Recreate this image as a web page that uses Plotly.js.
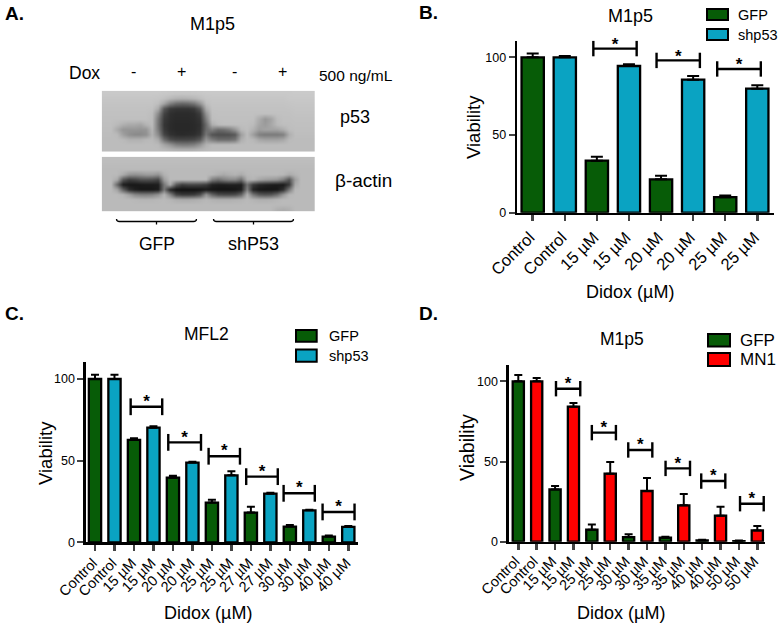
<!DOCTYPE html>
<html><head><meta charset="utf-8">
<script src="https://cdn.plot.ly/plotly-3.0.1.min.js"></script>
<style>html,body{margin:0;padding:0;background:#fff}</style>
</head><body><div id="chart" style="width:779px;height:626px"></div>
<script>
// ---------- Panel B ----------
const catsB = ["Control","Control","15 µM","15 µM","20 µM","20 µM","25 µM","25 µM"];
const gfpB = [100,33.5,21.5,10];
const gfpErrB = [2.4,2.5,2.3,1];
const shpB = [100,94.4,85.6,79.8];
const shpErrB = [0.9,1.2,2.4,2.2];
const brLeftB = [1.89,3.86,5.75];
const brRightB = [3.24,5.21,7.11];
const brYB = [105.6,98,92.5];
// ---------- Panel C ----------
const catsC = ["Control","Control","15 µM","15 µM","20 µM","20 µM","25 µM","25 µM","27 µM","27 µM","30 µM","30 µM","40 µM","40 µM"];
const gfpC = [100,62.7,39.6,24.3,18.2,9.6,3.5];
const gfpErrC = [2.6,1,1.2,1.7,3.6,1,0.6];
const shpC = [100,70.2,48.8,41,29.8,19.6,9.4];
const shpErrC = [2.6,0.8,0.6,2.5,0.6,0.4,0.6];
const brLeftC = [1.83,3.76,5.83,7.76,9.68,11.68];
const brRightC = [3.45,5.44,7.44,9.38,11.28,13.32];
const brYC = [83,61.2,52.7,40.2,30,18.6];
// ---------- Panel D ----------
const catsD = ["Control","Control","15 µM","15 µM","25 µM","25 µM","30 µM","30 µM","35 µM","35 µM","40 µM","40 µM","50 µM","50 µM"];
const gfpD = [100,32.6,7.5,2.9,2.5,0.8,0.4];
const gfpErrD = [4,2.1,3.3,1.7,0.6,0.4,0.4];
const mn1D = [100,84.2,42.4,31.6,22.7,16.2,7];
const mn1ErrD = [2,2.3,7.3,8.1,7,5.6,2.8];
const brLeftD = [2.05,4.0,5.98,8.01,9.95,12.06];
const brRightD = [3.37,5.31,7.29,9.34,11.26,13.35];
const brYD = [95.4,68,57.2,45.7,37.8,23.7];
const valueTicks = [0,50,100];
// ---------- Panel A: blot densities (grey level 0-255) ----------
const blotP53 = [
[201,201,201,201,201,201,201,201,201,201,200,199,198,198,198,199,200,201,201,201,201,201,201,201,201,201,201,201,201,201,201,201,202,202,202,202],
[198,198,198,198,198,198,198,198,198,197,192,184,178,176,178,182,190,197,198,198,198,198,198,198,198,198,198,198,198,198,198,200,200,200,200,200],
[196,196,196,196,196,196,196,196,196,190,165,128,108,102,106,118,148,190,196,196,196,196,196,196,196,196,196,196,196,196,196,197,198,198,198,198],
[194,194,194,194,194,194,194,194,193,172,88,58,52,52,52,58,88,172,194,194,194,194,194,194,194,194,194,194,194,194,194,195,196,196,196,196],
[193,193,193,193,193,193,193,193,190,140,68,48,44,44,44,46,62,148,192,193,193,193,193,193,193,193,193,193,193,193,193,193,195,195,195,195],
[192,192,192,192,192,192,192,192,188,122,58,46,42,42,42,44,52,128,190,192,192,192,192,192,192,192,172,152,164,188,192,192,193,193,193,193],
[191,191,186,176,170,170,165,180,188,118,54,44,40,40,40,42,48,108,175,188,191,191,191,191,191,188,166,156,168,186,191,191,192,192,192,192],
[190,190,170,150,150,150,148,150,182,124,58,44,40,40,40,42,50,108,128,108,112,124,150,184,190,178,158,164,164,164,174,189,191,191,191,191],
[189,189,186,160,144,138,138,144,178,140,70,50,44,42,44,46,56,118,84,78,78,80,90,158,188,158,128,122,122,122,128,174,190,190,190,190],
[188,188,188,186,178,178,178,184,186,170,110,78,68,68,68,72,88,148,124,108,108,108,118,174,188,184,168,162,162,162,168,186,188,188,188,188],
[188,188,188,188,188,188,188,188,188,186,165,148,128,122,122,128,148,178,186,186,186,186,188,188,188,188,188,188,188,188,188,188,188,188,188,188],
[188,188,188,188,188,188,188,188,188,188,186,182,178,176,176,178,182,186,188,188,188,188,188,188,188,188,188,188,188,188,188,188,188,188,188,188]];
const blotActin = [
[190,190,190,190,190,190,190,190,190,190,190,190,190,190,190,190,190,190,190,190,190,190,190,190,190,190,190,190,190,190,190,190,190,190,190,190],
[188,188,188,188,188,188,188,188,188,188,188,188,188,188,188,188,188,188,188,188,188,188,188,188,188,188,188,188,188,188,188,188,188,188,188,188],
[186,186,186,186,186,186,186,186,186,186,186,186,186,186,186,186,186,186,186,186,186,186,186,186,186,186,186,186,186,186,186,186,186,186,186,186],
[186,186,186,172,150,146,150,156,156,148,178,186,186,186,186,186,186,186,184,176,170,176,180,172,184,186,186,186,186,186,184,172,180,186,186,186],
[186,186,170,88,62,68,80,82,80,70,158,186,186,186,186,186,186,186,128,112,128,138,138,112,176,182,168,160,156,150,128,84,158,186,186,186],
[186,186,104,30,24,24,26,28,28,30,120,172,92,62,70,70,68,60,34,30,30,32,32,30,112,58,40,34,30,28,26,56,170,186,186,186],
[186,186,164,96,46,30,24,24,24,28,118,40,20,18,18,18,20,26,22,20,20,20,22,30,128,36,24,22,22,24,46,120,184,186,186,186],
[186,186,186,180,160,136,128,126,130,146,180,132,70,56,56,60,80,146,100,76,72,72,76,100,176,118,88,82,86,108,150,182,186,186,186,186],
[186,186,186,186,186,184,182,182,182,184,186,182,174,172,172,174,178,184,178,176,176,176,178,180,186,180,176,176,178,182,186,186,186,186,186,186],
[186,186,186,186,186,186,186,186,186,186,186,186,186,186,186,186,186,186,186,186,186,186,186,186,186,186,186,186,186,186,186,186,186,186,186,186],
[186,186,186,186,186,186,186,186,186,186,186,186,186,186,186,186,186,186,186,186,186,186,186,186,186,186,186,186,186,176,172,176,186,186,186,186]];
const seriesB = ["GFP","shp53"], seriesC = ["GFP","shp53"], seriesD = ["GFP","MN1"];

// ---------- Styling and layout ----------
const W = 779, H = 626, FONT = "Liberation Sans, Arial, sans-serif";
const GREEN = "#075c07", BLUE = "#0aa3c2", RED = "#ff0000";
const px = v => v / W, py = v => 1 - v / H;
const traces = [];
const layout = {width:W,height:H,margin:{l:0,r:0,t:0,b:0},paper_bgcolor:"#fff",plot_bgcolor:"rgba(0,0,0,0)",
  showlegend:false,barmode:"overlay",hovermode:false,shapes:[],annotations:[]};

function text(t,x,y,size,opt={}){
  layout.annotations.push(Object.assign({text:t,xref:"paper",yref:"paper",x:px(x),y:py(y),xanchor:"center",yanchor:"middle",
    showarrow:false,font:{family:FONT,size:size,color:"#000"}},opt));
}
function panel(p){
  const n = p.suffix, xa = "xaxis"+n, ya = "yaxis"+n, xr = "x"+n, yr = "y"+n;
  const dx = p.ticks[1]-p.ticks[0];
  const step = dx/(p.cats.length-1);
  layout[xa] = {domain:[px(p.left),px(p.right)],anchor:yr,range:[(p.left-p.ticks[0])/step,(p.right-p.ticks[0])/step],
    tickmode:"array",tickvals:p.cats.map((_,i)=>i),ticktext:p.cats,tickangle:-45,ticks:"outside",ticklen:6,tickwidth:2.5,
    ticklabelshift:p.labelShift,ticklabelstandoff:p.labelOff,
    showline:true,linewidth:2.6,linecolor:"#000",showgrid:false,zeroline:false,tickfont:{family:FONT,size:p.catSize,color:"#000"}};
  const scale = (p.zero-p.hund)/100;
  layout[ya] = {domain:[py(p.zero),py(p.top)],anchor:xr,range:[0,(p.zero-p.top)/scale],
    tickmode:"array",tickvals:valueTicks,ticktext:valueTicks.map(String),ticks:"outside",ticklen:6,tickwidth:2,
    showline:true,linewidth:2.6,linecolor:"#000",showgrid:false,zeroline:false,tickfont:{family:FONT,size:12.5,color:"#000"}};
  const barTrace = (vals,errs,col,off)=>({type:"bar",xaxis:xr,yaxis:yr,x:vals.map((_,i)=>2*i+off),y:vals,width:p.barWidth,
    marker:{color:col,line:{color:"#000",width:2.3}},
    error_y:{type:"data",symmetric:false,array:errs,arrayminus:errs.map(()=>0),color:"#000",thickness:2,width:p.capW}});
  traces.push(barTrace(p.a,p.aErr,p.colA,0),barTrace(p.b,p.bErr,p.colB,1));
  const bx=[],by=[];
  p.brL.forEach((l,i)=>{bx.push(l,p.brR[i],null);by.push(p.brY[i],p.brY[i],null);});
  traces.push({type:"scatter",mode:"lines+markers",xaxis:xr,yaxis:yr,x:bx,y:by,line:{color:"#000",width:2.4},cliponaxis:false,
    marker:{symbol:"line-ns",size:p.brCap,line:{color:"#000",width:2.4}}});
  traces.push({type:"scatter",mode:"text",xaxis:xr,yaxis:yr,x:p.brL.map((l,i)=>(l+p.brR[i])/2),y:p.brY.map(v=>v+p.starUp),cliponaxis:false,
    text:p.brL.map(()=>"<b>*</b>"),textposition:"middle center",textfont:{family:FONT,size:p.starSize,color:"#000"}});
  // legend
  p.names.forEach((nm,i)=>{
    const [y0,y1]=p.legY[i];
    layout.shapes.push({type:"rect",xref:"paper",yref:"paper",x0:px(p.legX[0]),x1:px(p.legX[1]),y0:py(y1),y1:py(y0),
      fillcolor:i?p.colB:p.colA,line:{color:"#000",width:2}});
    text(nm,p.legText,(y0+y1)/2,p.legSize,{xanchor:"left"});
  });
}
panel({suffix:"",cats:catsB,ticks:[532.7,757.3],left:517.3,right:774,zero:212.7,hund:57.3,top:40.7,catSize:16.5,labelShift:-3,labelOff:0,
  a:gfpB,aErr:gfpErrB,b:shpB,bErr:shpErrB,colA:GREEN,colB:BLUE,barWidth:0.695,capW:6,brL:brLeftB,brR:brRightB,brY:brYB,brCap:11,
  starUp:2,starSize:17,names:seriesB,legX:[707,728],legY:[[9,20],[29,40]],legText:736,legSize:14.5});
panel({suffix:"2",cats:catsC,ticks:[95,348.3],left:86,right:358.3,zero:542.3,hund:379,top:361.7,catSize:14.5,labelShift:-2,labelOff:-2,
  a:gfpC,aErr:gfpErrC,b:shpC,bErr:shpErrC,colA:GREEN,colB:BLUE,barWidth:0.63,capW:4,brL:brLeftC,brR:brRightC,brY:brYC,brCap:12,
  starUp:2.5,starSize:17,names:seriesC,legX:[296,316.7],legY:[[330,341.7],[349.5,361.7]],legText:327,legSize:14.5});
panel({suffix:"3",cats:catsD,ticks:[518.3,757.3],left:509,right:765,zero:541.7,hund:381.3,top:365,catSize:14.5,labelShift:-3,labelOff:-3,
  a:gfpD,aErr:gfpErrD,b:mn1D,bErr:mn1ErrD,colA:GREEN,colB:RED,barWidth:0.61,capW:4,brL:brLeftD,brR:brRightD,brY:brYD,brCap:11,
  starUp:2.5,starSize:17,names:seriesD,legX:[708,730],legY:[[334,346.5],[353,366]],legText:738,legSize:17});

// Blot heatmaps
function blot(z,suffix,x0,x1,y0,y1){
  layout["xaxis"+suffix]={domain:[px(x0),px(x1)],anchor:"y"+suffix,range:[-0.5,z[0].length-0.5],visible:false,fixedrange:true};
  layout["yaxis"+suffix]={domain:[py(y1),py(y0)],anchor:"x"+suffix,range:[z.length-0.5,-0.5],visible:false,fixedrange:true};
  traces.push({type:"heatmap",z:z,xaxis:"x"+suffix,yaxis:"y"+suffix,zmin:0,zmax:255,zsmooth:"best",showscale:false,
    colorscale:[[0,"#000"],[1,"#fff"]]});
}
blot(blotP53,"4",101.7,315,90.7,151.7);
blot(blotActin,"5",101.7,315,156.7,211.3);

// Panel letters and titles
text("<b>A.</b>",3,14,19,{xanchor:"left"});
text("<b>B.</b>",417,13,19,{xanchor:"left"});
text("<b>C.</b>",3,313,19,{xanchor:"left"});
text("<b>D.</b>",417,313,19,{xanchor:"left"});
text("M1p5",212,24,18);
text("M1p5",630,16,18);
text("MFL2",206,334,17.5);
text("M1p5",622,339,17.5);
// Panel A labels
text("Dox",84.5,73,17.5);
["-","+","-","+"].forEach((s,i)=>text(s,[133,181,234,282][i],72,16));
text("500 ng/mL",355.5,75,15.5);
text("p53",355,117,18);
text("β-actin",363,181,19);
text("GFP",157,244,17.5);
text("shP53",253,244,18);
// Braces under the blot
[[116.5,156.5,196.5],[213.5,253.5,293.5]].forEach(b=>{
  layout.shapes.push({type:"path",xref:"paper",yref:"paper",line:{color:"#000",width:1.3},
    path:`M${px(b[0])},${py(219)} Q${px(b[0])},${py(221.5)} ${px(b[0]+3)},${py(221.5)} L${px(b[2]-3)},${py(221.5)} Q${px(b[2])},${py(221.5)} ${px(b[2])},${py(219)} M${px(b[1])},${py(221.5)} L${px(b[1])},${py(224.5)}`});
});
// Axis titles
text("Viability",473,127,18.5,{textangle:-90});
text("Didox (µM)",630,292,18);
text("Viability",45,453,18.5,{textangle:-90});
text("Didox (µM)",208,613,18);
text("Viability",467,448,19.5,{textangle:-90});
text("Didox (µM)",621,613,18);

Plotly.newPlot("chart",traces,layout,{displayModeBar:false,staticPlot:true});
</script></body></html>
